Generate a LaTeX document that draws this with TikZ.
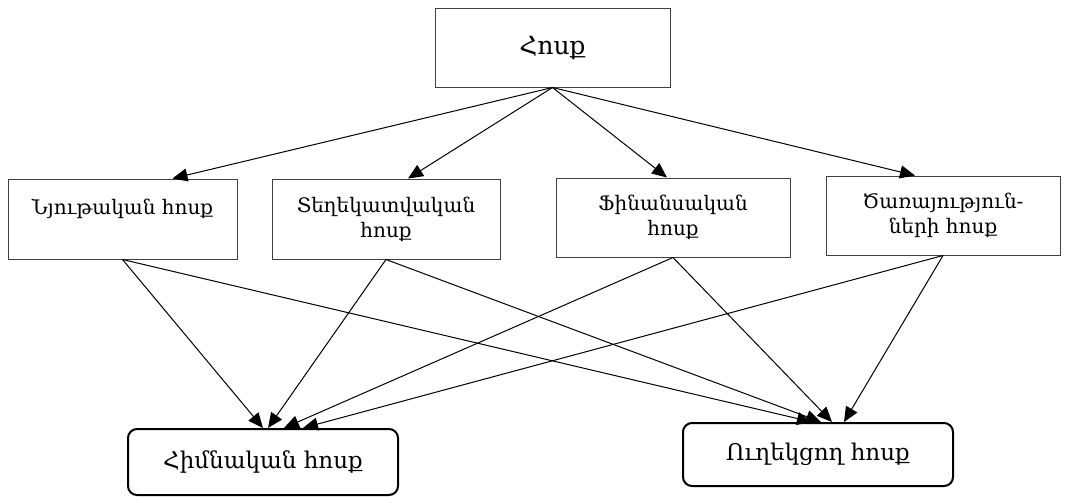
\documentclass[tikz,border=0pt]{standalone}
\usepackage{fontspec}
\setmainfont{DejaVu Serif}
\usepackage{tikz}
\usetikzlibrary{arrows.meta}
\definecolor{edge}{gray}{0.25}

\begin{document}
\begin{tikzpicture}[x=1pt, y=-1pt,
    flowbox/.style={draw=edge, line width=1pt, align=center,
      font=\fontsize{20}{25}\selectfont},
    mainbox/.style={draw, line width=2pt, rounded corners=9pt, align=center,
      font=\fontsize{23}{25}\selectfont},
    link/.style={->, line width=1pt, >={Triangle[length=15pt,width=13pt]}}]
  \useasboundingbox (0, 0) rectangle (1067, 496);

  % top box
  \node[flowbox, minimum width=235pt, minimum height=79pt,
    font=\fontsize{25}{25}\selectfont] (flow) at (552.5, 47.5) {Հոսք};

  % middle row
  \node[flowbox, minimum width=229pt, minimum height=80pt] (matflow)
    at (122.5, 219) {Նյութական հոսք\\ \mbox{}};
  \node[flowbox, minimum width=228pt, minimum height=80pt] (infoflow)
    at (386, 219) {Տեղեկատվական\\հոսք};
  \node[flowbox, minimum width=234pt, minimum height=79pt] (finflow)
    at (673, 217.5) {Ֆինանսական\\հոսք};
  \node[flowbox, minimum width=234pt, minimum height=79pt] (servflow)
    at (943, 215.5) {Ծառայություն-\\ների հոսք};

  % bottom row
  \node[mainbox, minimum width=270pt, minimum height=66pt] (mainflow)
    at (263, 462) {Հիմնական հոսք};
  \node[mainbox, minimum width=270pt, minimum height=63pt] (accflow)
    at (818, 454.5) {Ուղեկցող հոսք};

  \draw[link] (flow.south) -- ([xshift=50pt]matflow.north);
  \draw[link] (flow.south) -- ([xshift=22pt]infoflow.north);
  \draw[link] (flow.south) -- ([xshift=-6pt]finflow.north);
  \draw[link] (flow.south) -- ([xshift=-28pt]servflow.north);

  % to the main flow
  \draw[link] (matflow.south) -- ([xshift=0pt]mainflow.north);
  \draw[link] (infoflow.south) -- ([xshift=5pt]mainflow.north);
  \draw[link] (finflow.south) -- ([xshift=21pt]mainflow.north);
  \draw[link] (servflow.south) -- ([xshift=40pt]mainflow.north);

  % to the accompanying flow
  \draw[link] (matflow.south) -- ([xshift=-6pt]accflow.north);
  \draw[link] (infoflow.south) -- ([xshift=3pt]accflow.north);
  \draw[link] (finflow.south) -- ([xshift=14pt]accflow.north);
  \draw[link] (servflow.south) -- ([xshift=26pt]accflow.north);
\end{tikzpicture}
\end{document}
